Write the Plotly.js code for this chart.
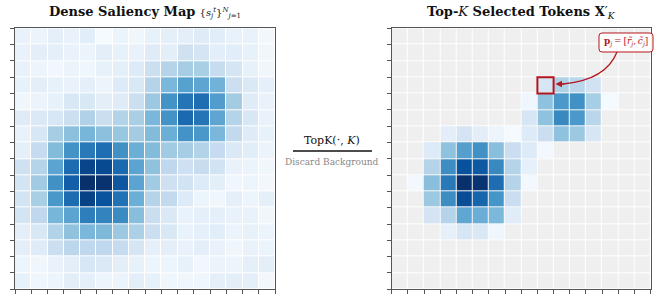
<!DOCTYPE html>
<html><head><meta charset="utf-8">
<script src="https://cdn.plot.ly/plotly-3.0.1.min.js"></script>
<style>html,body{margin:0;padding:0;background:#fff}#chart{width:665px;height:297px}</style>
</head><body><div id="chart"></div>
<script>
// Dense saliency values (rows top->bottom, cols left->right)
const rowIdx = [0,1,2,3,4,5,6,7,8,9,10,11,12,13,14,15];
const colIdx = [0,1,2,3,4,5,6,7,8,9,10,11,12,13,14,15];
const saliency = [
 [0.07,0.06,0.09,0.07,0.11,0.01,0.06,0.04,0.08,0.09,0.10,0.12,0.11,0.07,0.07,0.03],
 [0.07,0.10,0.09,0.07,0.06,0.10,0.08,0.07,0.12,0.10,0.20,0.17,0.10,0.11,0.08,0.04],
 [0.07,0.05,0.03,0.06,0.04,0.08,0.09,0.13,0.22,0.30,0.35,0.34,0.24,0.17,0.08,0.04],
 [0.08,0.10,0.08,0.07,0.09,0.05,0.13,0.15,0.30,0.46,0.56,0.54,0.48,0.22,0.14,0.09],
 [0.04,0.06,0.08,0.15,0.15,0.10,0.12,0.22,0.38,0.62,0.74,0.76,0.58,0.36,0.12,0.07],
 [0.12,0.14,0.16,0.22,0.32,0.23,0.31,0.34,0.46,0.62,0.78,0.74,0.54,0.30,0.16,0.07],
 [0.07,0.16,0.35,0.42,0.47,0.42,0.39,0.36,0.44,0.50,0.62,0.60,0.46,0.26,0.12,0.08],
 [0.09,0.25,0.44,0.62,0.72,0.76,0.63,0.50,0.44,0.37,0.35,0.31,0.25,0.14,0.11,0.06],
 [0.20,0.30,0.55,0.77,0.92,0.90,0.78,0.55,0.41,0.27,0.21,0.24,0.19,0.07,0.06,0.04],
 [0.18,0.37,0.63,0.82,1.00,0.99,0.85,0.55,0.37,0.21,0.19,0.13,0.10,0.04,0.05,0.03],
 [0.18,0.34,0.60,0.77,0.93,0.87,0.75,0.50,0.30,0.26,0.13,0.05,0.04,0.09,0.05,0.09],
 [0.18,0.27,0.47,0.55,0.70,0.68,0.65,0.43,0.23,0.14,0.07,0.09,0.09,0.07,0.07,0.04],
 [0.10,0.15,0.31,0.41,0.46,0.45,0.38,0.33,0.22,0.15,0.07,0.09,0.11,0.06,0.08,0.06],
 [0.10,0.12,0.22,0.28,0.27,0.27,0.25,0.17,0.09,0.10,0.07,0.10,0.07,0.04,0.07,0.06],
 [0.05,0.04,0.07,0.10,0.16,0.14,0.10,0.08,0.05,0.05,0.08,0.03,0.06,0.05,0.09,0.10],
 [0.08,0.04,0.05,0.10,0.09,0.05,0.06,0.10,0.08,0.04,0.04,0.04,0.09,0.10,0.09,0.03]
];
const TAU = 0.355;            // Top-K selection threshold
const markedRow = 3, markedCol = 9;  // highlighted token position

const selected = saliency.map(r => r.map(v => v >= TAU ? v : null));
const background = saliency.map(r => r.map(() => 0));

const blues = [[0,'#f7fbff'],[0.125,'#deebf7'],[0.25,'#c6dbef'],[0.375,'#9ecae1'],[0.5,'#6baed6'],[0.625,'#4292c6'],[0.75,'#2171b5'],[0.875,'#08519c'],[1,'#08306b']];
const RED = '#b5161d';
const SERIF = 'DejaVu Serif, serif';

const W = 665, H = 297;
const px = x => x / W, py = y => 1 - y / H;

const edges = colIdx.map(c => c - 0.5).concat([colIdx.length - 0.5]);
function axis(domain, rev) {
  return {domain: domain, range: rev ? [15.5, -0.5] : [-0.5, 15.5], showgrid: false, zeroline: false,
    showline: true, mirror: true, linecolor: '#555', linewidth: 1,
    ticks: 'outside', ticklen: 4, tickwidth: 1, tickcolor: '#555',
    tickmode: 'array', tickvals: edges, showticklabels: false, fixedrange: true};
}

const traces = [
  {type: 'heatmap', z: saliency, x: colIdx, y: rowIdx, colorscale: blues, zmin: 0, zmax: 1,
   xgap: 1, ygap: 1, showscale: false, xaxis: 'x', yaxis: 'y', hoverinfo: 'skip'},
  {type: 'heatmap', z: background, x: colIdx, y: rowIdx, colorscale: [[0,'#efefef'],[1,'#efefef']], zmin: 0, zmax: 1,
   xgap: 1, ygap: 1, showscale: false, xaxis: 'x2', yaxis: 'y2', hoverinfo: 'skip'},
  {type: 'heatmap', z: selected, x: colIdx, y: rowIdx, colorscale: blues, zmin: TAU, zmax: 1,
   xgap: 1, ygap: 1, showscale: false, xaxis: 'x2', yaxis: 'y2', hoverinfo: 'skip'}
];

function roundRect(x0, y0, x1, y1, r) {
  const P = (x, y) => px(x).toFixed(5) + ',' + py(y).toFixed(5);
  return 'M' + P(x0 + r, y0) + ' L' + P(x1 - r, y0) + ' Q' + P(x1, y0) + ' ' + P(x1, y0 + r) +
    ' L' + P(x1, y1 - r) + ' Q' + P(x1, y1) + ' ' + P(x1 - r, y1) +
    ' L' + P(x0 + r, y1) + ' Q' + P(x0, y1) + ' ' + P(x0, y1 - r) +
    ' L' + P(x0, y0 + r) + ' Q' + P(x0, y0) + ' ' + P(x0 + r, y0) + ' Z';
}
const curve = 'M' + px(617) + ',' + py(52) + ' Q' + px(606) + ',' + py(80) + ' ' + px(563) + ',' + py(84);

const layout = {
  width: W, height: H, margin: {l: 0, r: 0, t: 0, b: 0},
  paper_bgcolor: '#fff', plot_bgcolor: '#fff', showlegend: false,
  xaxis: axis([px(15), px(275)], false),
  yaxis: axis([py(289.3), py(28.3)], true),
  xaxis2: Object.assign(axis([px(391.7), px(650.7)], false), {anchor: 'y2'}),
  yaxis2: Object.assign(axis([py(289.3), py(28.3)], true), {anchor: 'x2'}),
  shapes: [
    {type: 'rect', xref: 'x2', yref: 'y2', x0: markedCol - 0.5, x1: markedCol + 0.5, y0: markedRow - 0.5, y1: markedRow + 0.5,
     line: {color: RED, width: 2}, fillcolor: 'rgba(0,0,0,0)'},
    {type: 'path', xref: 'paper', yref: 'paper', path: curve, line: {color: RED, width: 1.3}},
    {type: 'path', xref: 'paper', yref: 'paper', path: roundRect(599, 33, 653, 52, 3), fillcolor: 'rgba(255,255,255,0.92)', line: {color: RED, width: 1}},
    {type: 'line', xref: 'paper', yref: 'paper', x0: px(293), x1: px(372), y0: py(151), y1: py(151), line: {color: '#111', width: 1.5}}
  ],
  annotations: [
    {xref: 'paper', yref: 'paper', x: px(145), y: py(12), xanchor: 'center', yanchor: 'middle', showarrow: false,
     text: '<b>Dense Saliency Map</b> <span style="font-size:10px">{<i>s</i><sub><i>j</i></sub><sup><i>t</i></sup>}<sup><i>N</i></sup><sub><i>j</i>=1</sub></span>',
     font: {family: SERIF, size: 13, color: '#111'}},
    {xref: 'paper', yref: 'paper', x: px(521), y: py(12), xanchor: 'center', yanchor: 'middle', showarrow: false,
     text: '<b>Top-</b><i>K</i><b> Selected Tokens X</b>′<sub><i>K</i></sub>',
     font: {family: SERIF, size: 13, color: '#111'}},
    {xref: 'paper', yref: 'paper', x: px(332), y: py(141), xanchor: 'center', yanchor: 'middle', showarrow: false,
     text: 'TopK(·, <i>K</i>)', font: {family: SERIF, size: 11, color: '#111'}},
    {xref: 'paper', yref: 'paper', x: px(332), y: py(162), xanchor: 'center', yanchor: 'middle', showarrow: false,
     text: 'Discard Background', font: {family: SERIF, size: 9, color: '#888'}},
    {xref: 'paper', yref: 'paper', x: px(626), y: py(42.5), xanchor: 'center', yanchor: 'middle', showarrow: false,
     text: '<b>p</b><sub><i>j</i></sub>\u2009=\u2009[<i>r̃</i><sub><i>j</i></sub>,\u2009<i>c̃</i><sub><i>j</i></sub>]',
     font: {family: SERIF, size: 9, color: RED}},
    {xref: 'paper', yref: 'paper', x: px(555.5), y: py(84), text: '', showarrow: true,
     axref: 'pixel', ayref: 'pixel', ax: 10, ay: 0, arrowhead: 2, arrowsize: 1, arrowwidth: 1.3, arrowcolor: RED}
  ]
};

Plotly.newPlot('chart', traces, layout, {displayModeBar: false, staticPlot: true});
</script></body></html>
